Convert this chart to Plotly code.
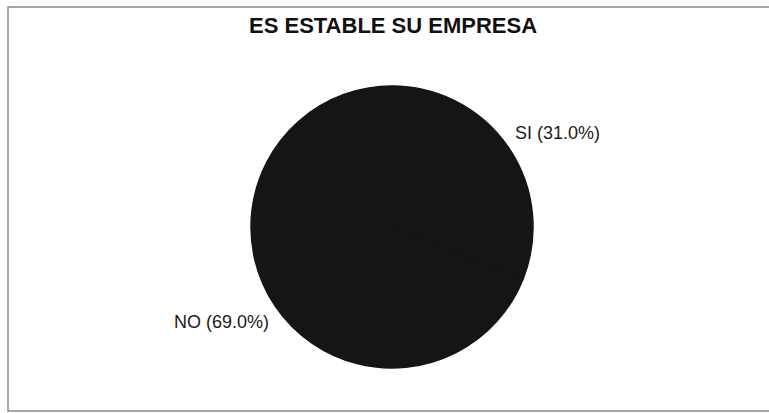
import math
import plotly.graph_objects as go

# Survey answers: "Is your company stable?"
labels = ["SI", "NO"]
values = [31.0, 69.0]
slice_colors = ["#151515", "#151515"]
title_text = "ES ESTABLE SU EMPRESA"

W, H = 769, 413
cx, cy, r = 392, 227, 141  # pie centre and radius in pixels

fig = go.Figure()
fig.add_trace(go.Pie(
    labels=labels,
    values=values,
    sort=False,
    direction="clockwise",
    rotation=0,
    marker=dict(colors=slice_colors, line=dict(color="#151515", width=1.5)),
    textinfo="none",
    hoverinfo="label+percent",
    showlegend=False,
    domain=dict(
        x=[(cx - r) / W, (cx + r) / W],
        y=[1 - (cy + r) / H, 1 - (cy - r) / H],
    ),
))

# Category labels placed just outside each slice, at the slice's mid-angle
total = sum(values)
annotations = []
start = 0.0
for lab, val in zip(labels, values):
    mid = (start + val / 2) / total * 2 * math.pi
    start += val
    dx, dy = math.sin(mid), -math.cos(mid)
    px = cx + dx * (r + 5)
    py = cy + dy * (r + 12) + (9 if dy > 0 else -8)
    annotations.append(dict(
        x=px / W, y=1 - py / H, xref="paper", yref="paper",
        text=f"{lab} ({val / total * 100:.1f}%)",
        showarrow=False,
        xanchor="left" if dx >= 0 else "right",
        yanchor="middle",
        font=dict(family="Liberation Sans, Arial", size=18, color="#1a1a1a"),
    ))

annotations.append(dict(
    x=393 / W, y=1 - 26 / H, xref="paper", yref="paper",
    text=f"<b>{title_text}</b>", showarrow=False,
    xanchor="center", yanchor="middle",
    font=dict(family="Liberation Sans, Arial", size=22, color="#111111"),
))

# Chart-area frame (its right edge runs past the visible area)
fig.add_shape(type="rect", xref="paper", yref="paper",
              x0=8 / W, x1=1.05, y0=1 - 411 / H, y1=1 - 7 / H,
              line=dict(color="#8a8a8a", width=1.5))

fig.update_layout(
    width=W, height=H,
    margin=dict(l=0, r=0, t=0, b=0),
    paper_bgcolor="white",
    plot_bgcolor="white",
    annotations=annotations,
)

fig.write_html("out.html")
